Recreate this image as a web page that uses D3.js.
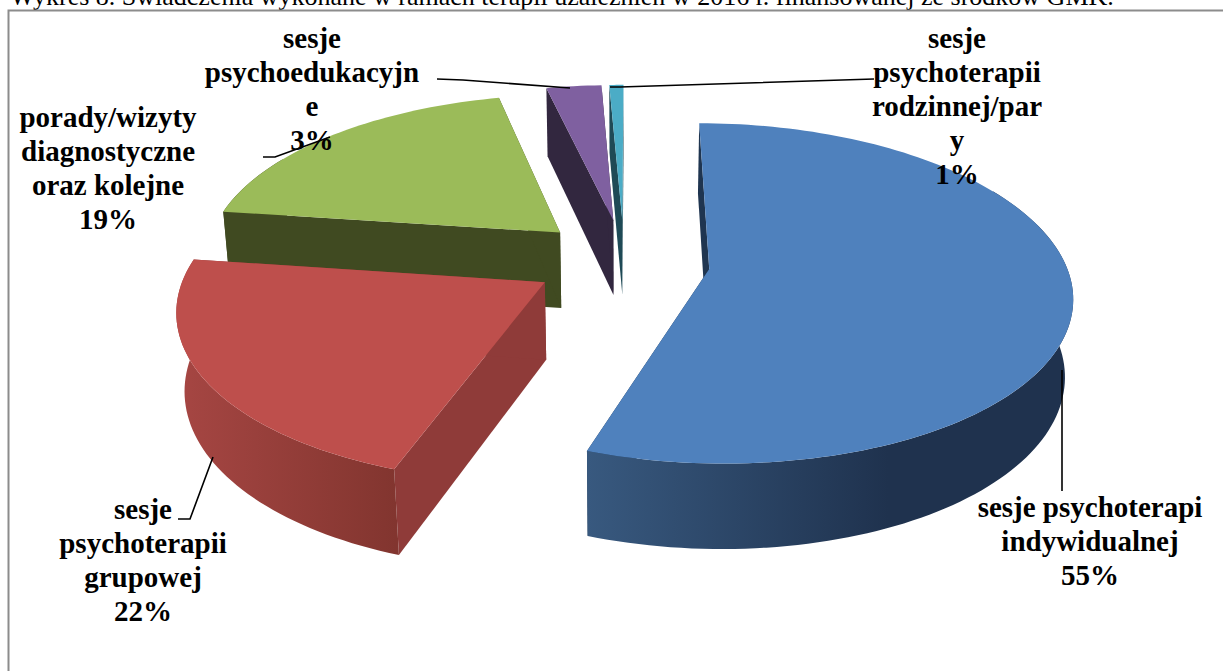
<!DOCTYPE html>
<html><head><meta charset="utf-8">
<script src="https://cdn.jsdelivr.net/npm/d3@7"></script>
<style>html,body{margin:0;padding:0;background:#fff;overflow:hidden}svg{display:block}
text{font-family:"Liberation Serif","Times New Roman",serif}</style></head>
<body><svg id="c" width="1223" height="671"></svg>
<script>
const categories=["sesje psychoterapi indywidualnej","sesje psychoterapii grupowej","porady/wizyty diagnostyczne oraz kolejne","sesje psychoedukacyjne","sesje psychoterapii rodzinnej/pary"];
const values=[55.28,21.83,19.22,2.92,0.75];
const topColors=["#4f81bd","#be4f4c","#9bbb59","#7f60a0","#4bacc6"];
const wallColors=["#1f3550","#8f3b39","#404a21","#32273f","#1f4a56"];
const rimStops=[[["#38597f",0],["#1f324e",.62],["#1f324e",1]],[["#a64643",0],["#82352f",1]],[["#404a21",0],["#404a21",1]],[["#32273f",0],["#32273f",1]],[["#1f4a56",0],["#1f4a56",1]]];
const labelLines=[["sesje psychoterapi","indywidualnej","55%"],["sesje","psychoterapii","grupowej","22%"],["porady/wizyty","diagnostyczne","oraz kolejne","19%"],["sesje","psychoedukacyjn","e","3%"],["sesje","psychoterapii","rodzinnej/par","y","1%"]];
const labelX=[1090,143,108,312,957];
const labelY=[517,519,127,48,48];
const leaders=[[[1062,370],[1062,491]],[[178,519],[190,519],[213,457]],[[263,157],[275,157],[330,137]],[[437,79],[463,80],[570,88]],[[874,79],[620,87],[610,87]]];
const nudgeX=[-2,1,3,3,2], nudgeY=[0,-2,-2,-2,-2];
const header="Wykres 8. Świadczenia wykonane w ramach terapii uzależnień w 2016 r. finansowanej ze środków GMK.";

const svg=d3.select("#c"), defs=svg.append("defs");
const R=356,q=.142,k=.4626,h=78,sink=.018,e=90,cx=622,cy=262;
const rad=Math.PI/180;
const pie=d3.pie().sort(null).value(d=>d).startAngle(.2*rad).endAngle(360.2*rad);
const arcs=pie(values);
function proj(X,Y,bottom){
  const w=1-q*Y/R+(bottom?sink:0);
  return [cx+X/w, cy+(k*Y+(bottom?h:0))/w];
}
function pt(a,r,th,bottom){
  const mid=(a.startAngle+a.endAngle)/2;
  const X=e*Math.sin(mid)+r*Math.sin(th), Y=-(e*Math.cos(mid)+r*Math.cos(th));
  const p=proj(X,Y,bottom);
  return [p[0]+nudgeX[a.index],p[1]+nudgeY[a.index]];
}
const line=d3.line();
function sampled(a0,a1){const n=Math.max(6,Math.ceil((a1-a0)/(1.5*rad)));
  return d3.range(n+1).map(i=>a0+(a1-a0)*i/n);}
// frame and heading
svg.append("text").attr("x",10).attr("y",5).attr("font-size",26).attr("fill","#000").text(header);
svg.append("path").attr("d","M1223,10.5H8.5V671").attr("fill","none").attr("stroke","#8c8c8c").attr("stroke-width",2);

d3.range(values.length).reverse().forEach(i=>{
  const a=arcs[i],g=svg.append("g");
  [a.startAngle,a.endAngle].forEach(th=>{
    g.append("path").attr("fill",wallColors[i]).attr("d",line([pt(a,0,th,false),pt(a,R,th,false),pt(a,R,th,true),pt(a,0,th,true)])+"Z");
  });
  const r0=Math.max(a.startAngle,60*rad), r1=Math.min(a.endAngle,300*rad);
  if(r1>r0){
    const ths=sampled(r0,r1);
    const topPts=ths.map(t=>pt(a,R,t,false)), botPts=ths.map(t=>pt(a,R,t,true));
    const gid="rim"+i;
    const lg=defs.append("linearGradient").attr("id",gid).attr("gradientUnits","userSpaceOnUse").attr("x1",i==0?587:178).attr("x2",i==0?1073:396).attr("y1",0).attr("y2",0);
    rimStops[i].forEach(s=>lg.append("stop").attr("offset",s[1]).attr("stop-color",s[0]));
    g.append("path").attr("fill",`url(#${gid})`).attr("d",line(topPts.concat(botPts.slice().reverse()))+"Z");
  }
  const rimTop=sampled(a.startAngle,a.endAngle).map(t=>pt(a,R,t,false));
  g.append("path").attr("fill",topColors[i]).attr("d",line([pt(a,0,0,false)].concat(rimTop))+"Z");
});
leaders.forEach(l=>svg.append("path").attr("d",line(l)).attr("fill","none").attr("stroke","#000").attr("stroke-width",1.6));
labelLines.forEach((ls,i)=>{
  const t=svg.append("text").attr("text-anchor","middle").attr("font-weight","bold").attr("font-size",29).attr("fill","#000");
  ls.forEach((s,j)=>t.append("tspan").attr("x",labelX[i]).attr("y",labelY[i]+j*34).text(s));
});
</script></body></html>
